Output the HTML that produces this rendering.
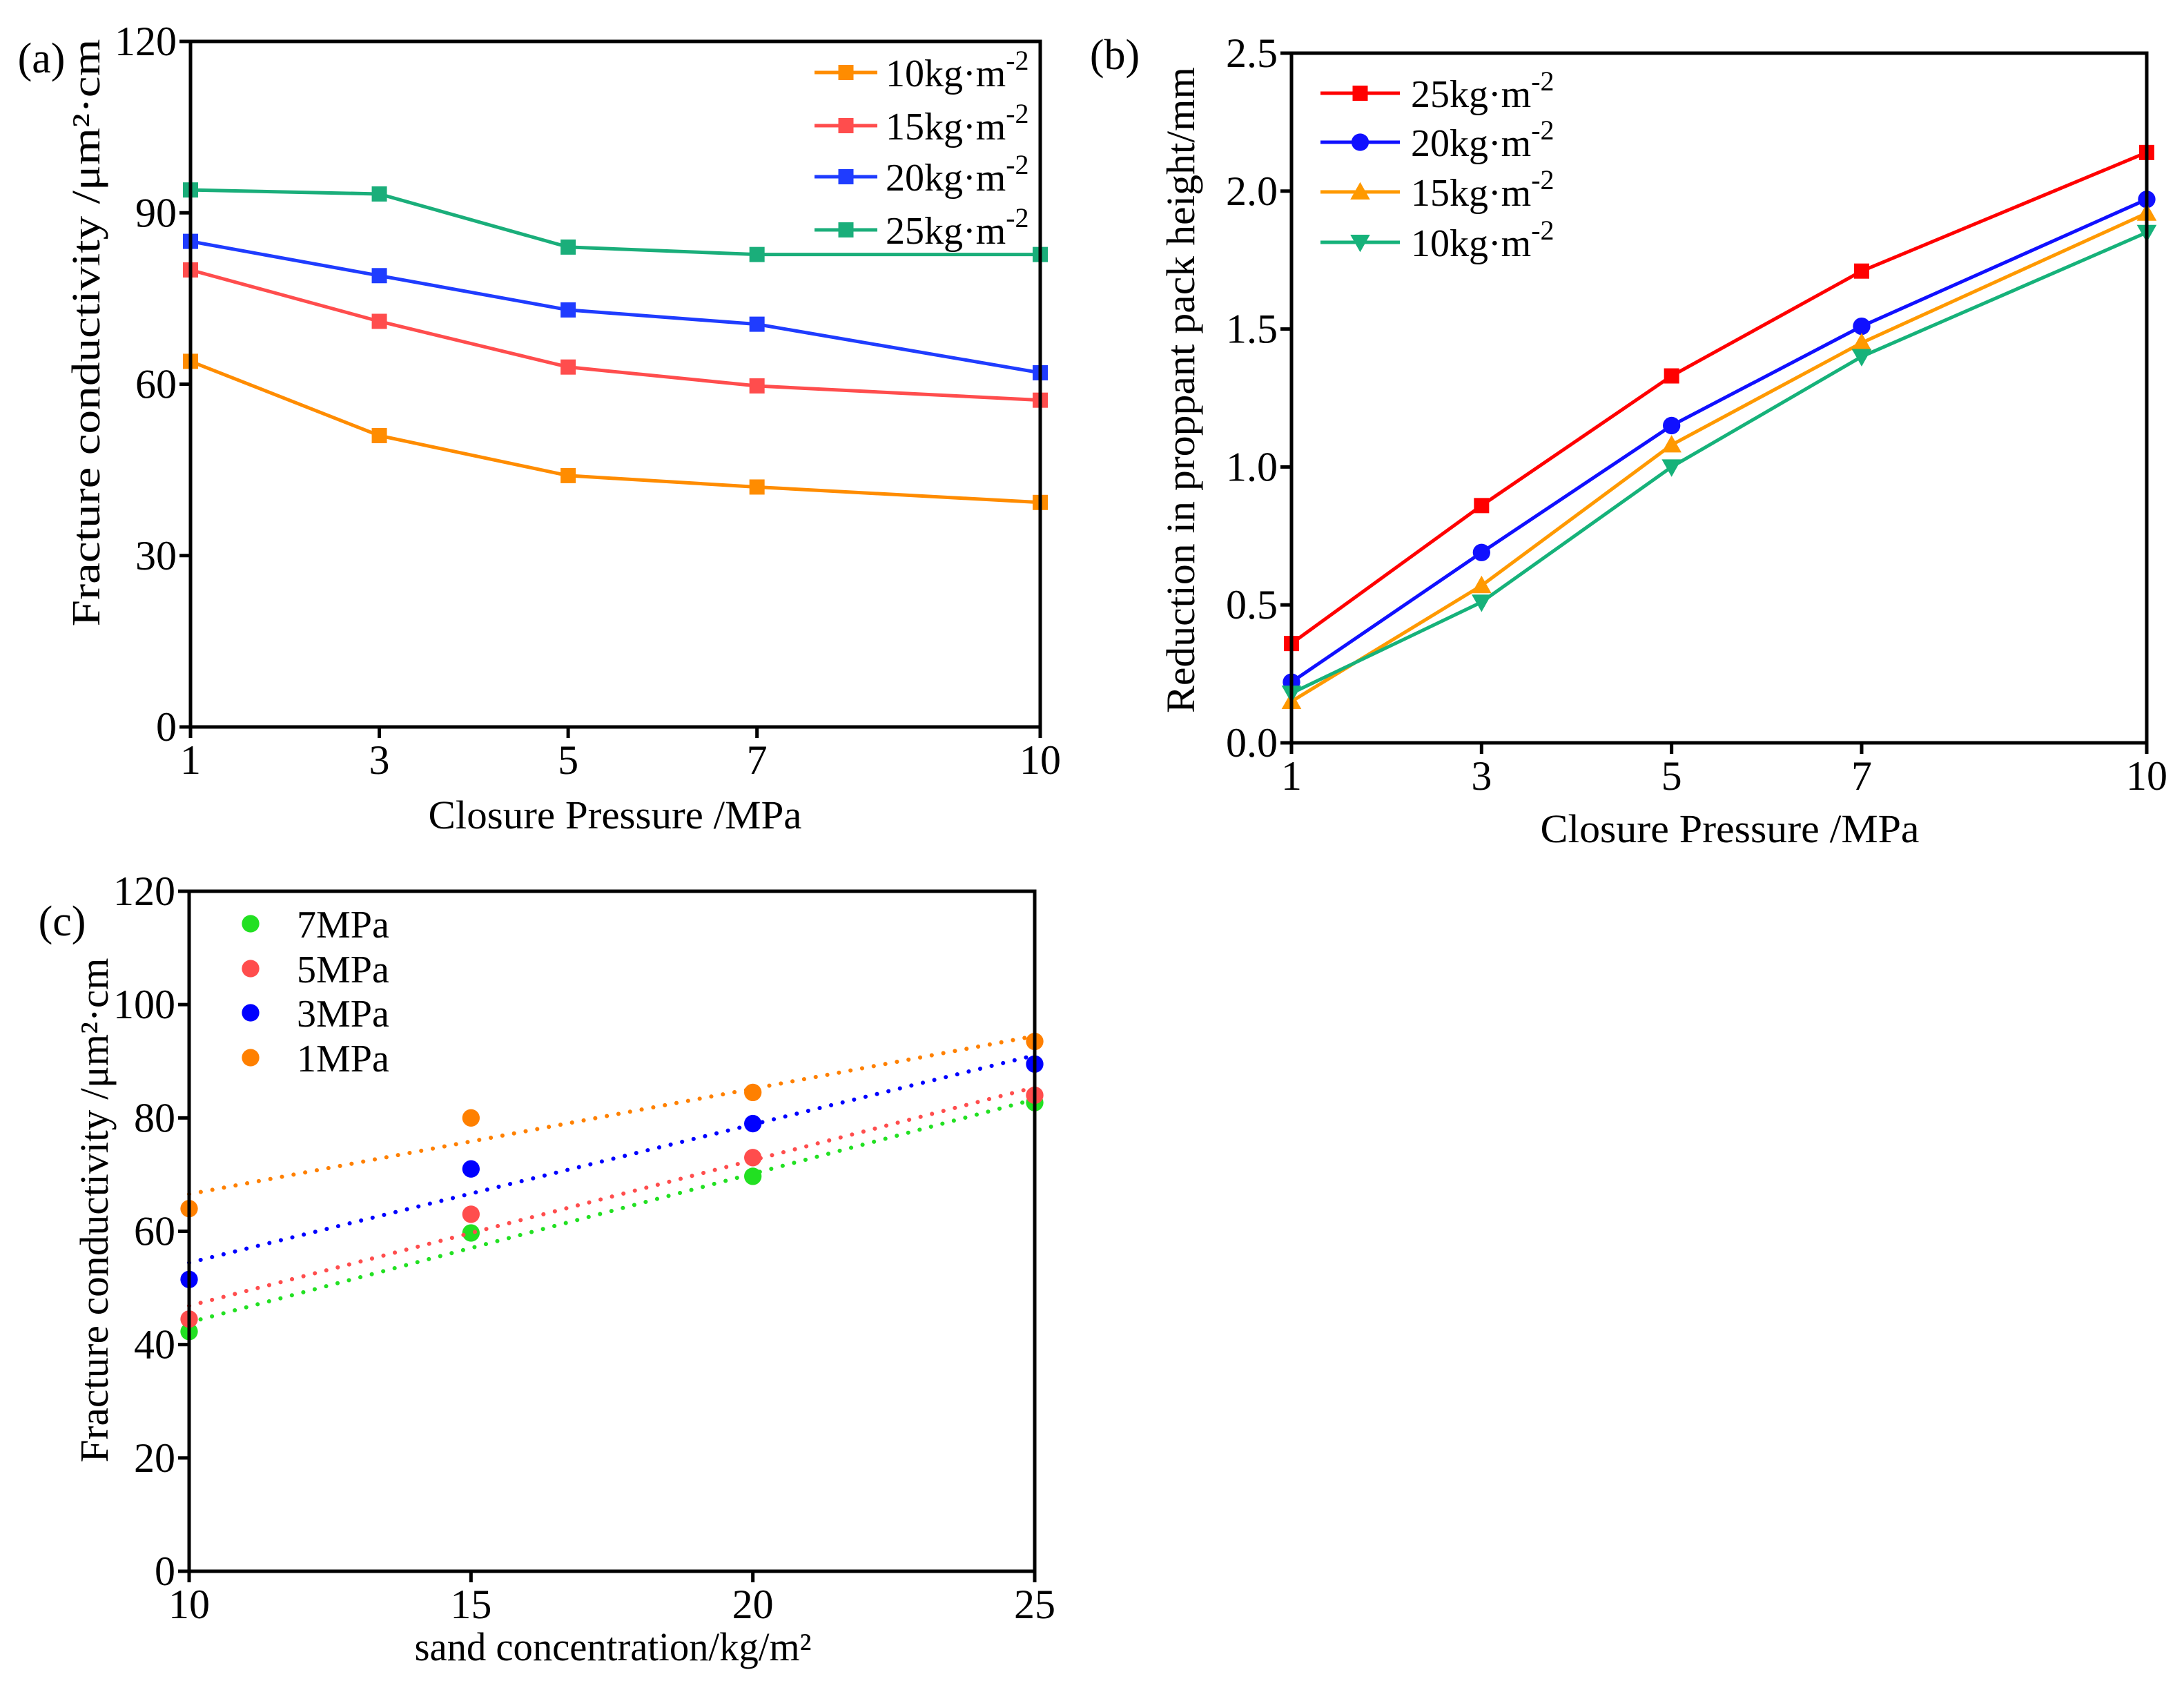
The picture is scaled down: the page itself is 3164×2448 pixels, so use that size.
<!DOCTYPE html>
<html><head><meta charset="utf-8"><style>
html,body{margin:0;padding:0;background:#fff;}
svg{display:block;font-family:"Liberation Serif",serif;}
</style></head><body>
<svg id="fig" width="3164" height="2448" viewBox="0 0 3164 2448" xmlns="http://www.w3.org/2000/svg"></svg>
<script>
// Panel (a) data
const aX = [1,3,5,7,10];
const aSeriesNames = ["10kg·m","15kg·m","20kg·m","25kg·m"];
const a10 = [64,51,44,42,39.3];
const a15 = [80,71,63,59.7,57.2];
const a20 = [85,79,73,70.5,62];
const a25 = [94,93.3,84,82.7,82.7];
const aYTicks = [0,30,60,90,120];
const aXTicks = [1,3,5,7,10];
// Panel (b) data
const bX = [1,3,5,7,10];
const b25 = [0.36,0.86,1.33,1.71,2.14];
const b20 = [0.22,0.69,1.15,1.51,1.97];
const b15 = [0.15,0.57,1.08,1.45,1.92];
const b10 = [0.18,0.51,1.00,1.40,1.85];
const bYTicks = ["0.0","0.5","1.0","1.5","2.0","2.5"];
const bXTicks = [1,3,5,7,10];
// Panel (c) data
const cX = [10,15,20,25];
const c7 = [42.3,59.7,69.7,82.7];
const c5 = [44.5,63,73,84];
const c3 = [51.5,71,79,89.5];
const c1 = [64,80,84.5,93.5];
const cYTicks = [0,20,40,60,80,100,120];
const cXTicks = [10,15,20,25];

const NS="http://www.w3.org/2000/svg";
const svg=document.getElementById('fig');
function el(tag,attrs,parent,text){const e=document.createElementNS(NS,tag);for(const k in attrs)e.setAttribute(k,attrs[k]);if(text!==undefined)e.textContent=text;(parent||svg).appendChild(e);return e;}
function lin(d0,d1,r0,r1){return v=>r0+(v-d0)*(r1-r0)/(d1-d0);}

function frame(g,L,T,R,B,xt,yt,xsc,ysc,name){
  let f=el('rect',{x:L,y:T,width:R-L,height:B-T,fill:'none',stroke:'#000','stroke-width':5},g);
  
  
  xt.forEach(v=>{const x=xsc(+v);
    let t=el('line',{x1:x,y1:B,x2:x,y2:B+16,stroke:'#000','stroke-width':5},g);
    
    
    let l=el('text',{x:x,y:B+68,'font-size':60,'text-anchor':'middle'},g,String(v));
    
    
  });
  yt.forEach(v=>{const y=ysc(+v);
    let t=el('line',{x1:L-16,y1:y,x2:L,y2:y,stroke:'#000','stroke-width':5},g);
    
    
    let l=el('text',{x:L-20,y:y+20,'font-size':60,'text-anchor':'end'},g,String(v));
    
    
  });
}
function marker(g,type,x,y,color,s){
  let m;
  if(type==='sq') m=el('rect',{x:x-s,y:y-s,width:2*s,height:2*s,fill:color},g);
  else if(type==='circ') m=el('circle',{cx:x,cy:y,r:s*1.15,fill:color},g);
  else if(type==='up') m=el('polygon',{points:`${x},${y-s*1.3} ${x-s*1.3},${y+s} ${x+s*1.3},${y+s}`,fill:color},g);
  else m=el('polygon',{points:`${x},${y+s*1.3} ${x-s*1.3},${y-s} ${x+s*1.3},${y-s}`,fill:color},g);
  
  
}
function series(g,xs,ys,xsc,ysc,color,type,name){
  const pts=xs.map((x,i)=>xsc(x)+','+ysc(ys[i])).join(' ');
  let p=el('polyline',{points:pts,fill:'none',stroke:color,'stroke-width':5},g);
  
  
  xs.forEach((x,i)=>marker(g,type,xsc(x),ysc(ys[i]),color,11));
}
function legendLine(g,x1,x2,tx,y,color,type,label,name){
  let l=el('line',{x1:x1,y1:y,x2:x2,y2:y,stroke:color,'stroke-width':5},g);
  
  
  marker(g,type,(x1+x2)/2,y,color,11);
  let t=el('text',{x:tx,y:y+20,'font-size':56},g);
  
  
  t.appendChild(document.createTextNode(label));
  el('tspan',{dy:-24,'font-size':40},t,'-2');
}
function label(txt,x,y,size,name,rot,len){
  const a={x:x,y:y,'font-size':size,'text-anchor':'middle'};
  if(rot)a.transform=`rotate(-90 ${x} ${y})`;
  if(len){a.textLength=len;a.lengthAdjust='spacingAndGlyphs';}
  let t=el('text',a,svg,txt);
  
  
}

// ---- Panel (a)
{
  const g=el('g',{});
  
  
  const L=276,R=1507,T=60,B=1053;
  const xs=lin(1,10,L,R), ys=lin(0,120,B,T);
  const cols=['#ff8c00','#ff4d4d','#1f3cff','#1aae7a'];
  [a10,a15,a20,a25].forEach((d,i)=>series(g,aX,d,xs,ys,cols[i],'sq','a-'+aSeriesNames[i]));
  frame(g,L,T,R,B,aXTicks,aYTicks,xs,ys,'a');
  const ly=[105,182,256,333];
  aSeriesNames.forEach((n,i)=>legendLine(g,1180,1271,1283,ly[i],cols[i],'sq',n,'a-'+(10+5*i)));
  label('(a)',60,105,62,'panel-a-label');
  label('Closure Pressure /MPa',891,1200,58,'a-x-axis-title',false,541);
  label('Fracture conductivity /μm²·cm',144,482,58,'a-y-axis-title',true,851);
}
// ---- Panel (b)
{
  const g=el('g',{});
  
  
  const L=1871,R=3110,T=77,B=1076;
  const xs=lin(1,10,L,R), ys=lin(0,2.5,B,T);
  const cols=['#ff0000','#1010ff','#ff9900','#16b27a'];
  const types=['sq','circ','up','down'];
  const names=['25kg·m','20kg·m','15kg·m','10kg·m'];
  [b25,b20,b15,b10].forEach((d,i)=>series(g,bX,d,xs,ys,cols[i],types[i],'b-'+names[i]));
  frame(g,L,T,R,B,bXTicks,bYTicks,xs,ys,'b');
  const ly=[135,206,278,351];
  names.forEach((n,i)=>legendLine(g,1913,2028,2044,ly[i],cols[i],types[i],n,'b-'+(25-5*i)));
  label('(b)',1615,100,62,'panel-b-label');
  label('Closure Pressure /MPa',2506,1220,58,'b-x-axis-title',false,549);
  label('Reduction in proppant pack height/mm',1730,565,58,'b-y-axis-title',true,936);
}
// ---- Panel (c)
{
  const g=el('g',{});
  
  
  const L=274,R=1499,T=1291,B=2276;
  const xs=lin(10,25,L,R), ys=lin(0,120,B,T);
  const cols=['#22e022','#ff4d4d','#0000ff','#ff8000'];
  const names=['7MPa','5MPa','3MPa','1MPa'];
  [c7,c5,c3,c1].forEach((d,i)=>{
    // linear least-squares fit
    const n=cX.length;
    const mx=cX.reduce((s,v)=>s+v,0)/n, my=d.reduce((s,v)=>s+v,0)/n;
    let sxy=0,sxx=0;cX.forEach((v,k)=>{sxy+=(v-mx)*(d[k]-my);sxx+=(v-mx)*(v-mx);});
    const b=sxy/sxx,a=my-b*mx;
    let p=el('line',{x1:xs(10),y1:ys(a+b*10),x2:xs(25),y2:ys(a+b*25),stroke:cols[i],'stroke-width':6,'stroke-dasharray':'0.1 17','stroke-linecap':'round'},g);
    
    
    cX.forEach((x,k)=>marker(g,'circ',xs(x),ys(d[k]),cols[i],11));
  });
  frame(g,L,T,R,B,cXTicks,cYTicks,xs,ys,'c');
  const ly=[1338,1403,1467,1532];
  names.forEach((n,i)=>{
    marker(g,'circ',363,ly[i],cols[i],11);
    let t=el('text',{x:430,y:ly[i]+20,'font-size':56},g,n);
    
    
  });
  label('(c)',90,1355,62,'panel-c-label');
  label('sand concentration/kg/m²',888,2405,58,'c-x-axis-title',false,575);
  label('Fracture conductivity /μm²·cm',156,1753,58,'c-y-axis-title',true,731);
}
</script>
</body></html>
